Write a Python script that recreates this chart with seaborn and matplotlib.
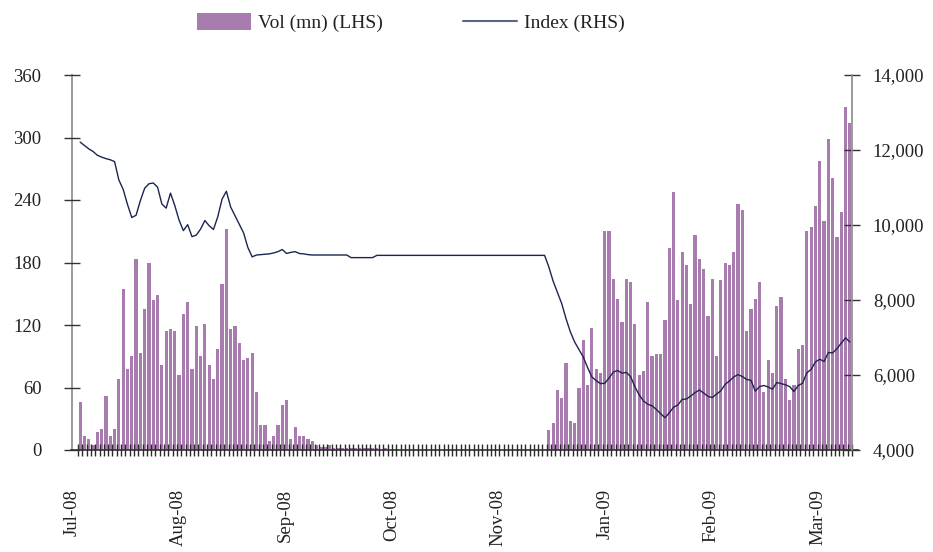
import numpy as np
import pandas as pd
import matplotlib
matplotlib.use('Agg')
import matplotlib.pyplot as plt
import matplotlib.ticker as mticker
from matplotlib.patches import Patch
from matplotlib.lines import Line2D
import seaborn as sns

# Daily volume (mn, LHS) - one value per trading day, Jul-08 to mid Mar-09
vol = [
    46, 13, 11, 5, 17, 20, 52, 13, 20, 68, 155, 78, 90, 183, 93, 135, 180, 144, 149, 82,
    114, 116, 114, 72, 131, 142, 78, 119, 90, 121, 82, 68, 97, 159, 212, 116, 119, 103, 86, 88,
    93, 56, 24, 24, 9, 13, 24, 43, 48, 11, 22, 13, 13, 11, 9,
    5, 3, 3, 5, 1.5, 1.5, 1.5, 1.5, 1.5, 1.5, 1.5, 1.5, 1.5, 1.5, 1.5, 0, 1.5,
    0, 0, 0, 0, 0, 0, 0, 0, 0, 0, 0, 0, 0, 0, 0, 0, 0, 0, 0, 0,
    0, 0, 0, 0, 0, 0, 0, 0, 0, 0, 0, 0, 0, 0, 0, 0, 0,
    19, 26, 58, 50, 84, 28, 26, 60, 106, 62, 117, 78, 74, 210, 210, 164, 145, 123, 164, 161,
    121, 72, 76, 142, 90, 92, 92, 125, 194, 248, 144, 190, 178, 140, 206, 183, 174, 129, 164, 90,
    163,
    180, 178, 190, 236, 230, 114, 135, 145, 161, 56, 86, 74, 138, 147, 68, 48, 62, 97, 101, 210,
    214, 234, 277, 220, 299, 261, 204, 228, 329, 314,
]

# Index level (RHS)
index_level = [
    12210, 12120, 12030, 11960, 11860, 11810, 11770, 11740, 11690, 11200,
    10950, 10550, 10200, 10260, 10650, 10980, 11100, 11120, 11010, 10560,
    10450, 10850, 10520, 10130, 9850, 10010, 9690, 9730, 9890, 10120,
    9980, 9880, 10220, 10690, 10900, 10480, 10250, 10020, 9790, 9400,
    9150, 9200, 9210, 9220, 9230, 9255, 9290, 9345, 9240, 9270,
    9290, 9240, 9230, 9210, 9200,
    9200, 9200, 9200, 9200, 9200, 9200, 9200, 9200,
    9130, 9130, 9130, 9130, 9130, 9130,
    9190, 9190, 9190, 9190, 9190, 9190, 9190, 9190, 9190, 9190,
    9190, 9190, 9190, 9190, 9190, 9190, 9190, 9190, 9190, 9190,
    9190, 9190, 9190, 9190, 9190, 9190, 9190, 9190, 9190, 9190,
    9190, 9190, 9190, 9190, 9190, 9190, 9190, 9190, 9190, 9190,
    8880, 8500, 8200, 7900, 7500, 7150, 6880, 6680, 6480, 6200,
    5950, 5850, 5770, 5780, 5920, 6080, 6120, 6050, 6070, 5960,
    5690, 5470, 5310, 5220, 5180, 5080, 4970, 4860, 4990, 5140,
    5200, 5350, 5360, 5440, 5530, 5600, 5520, 5430, 5400, 5490,
    5580, 5750, 5840, 5950, 6010, 5960, 5880, 5860, 5570, 5690,
    5720, 5680, 5620, 5800, 5770, 5740, 5690, 5560, 5720, 5780,
    6060, 6150, 6350, 6420, 6360, 6600, 6590, 6700, 6850, 6990,
    6880,
]

month_labels = ['Jul-08', 'Aug-08', 'Sep-08', 'Oct-08', 'Nov-08', 'Jan-09', 'Feb-09', 'Mar-09']

bar_color = '#A87CAE'
line_color = '#1C2550'
text_color = '#222222'

df = pd.DataFrame({'day': np.arange(len(vol)), 'vol': vol, 'index': index_level})
n = len(df)

sns.set_theme(style='white')
plt.rcParams['font.family'] = ['Liberation Serif', 'DejaVu Serif']

fig = plt.figure(figsize=(9.33, 5.52), dpi=100)
ax = fig.add_axes([72 / 933, 102 / 552, 780 / 933, 375 / 552])
ax2 = ax.twinx()

sns.barplot(data=df, x='day', y='vol', color=bar_color, saturation=1,
            width=0.74, edgecolor='none', linewidth=0, ax=ax)
sns.lineplot(data=df, x='day', y='index', color=line_color, lw=1.0, ax=ax2)

# ticks sit on top of the bars, like the original
ax.set_axisbelow(False)

ax.set_xlim(-0.5, n - 0.5)
ax.set_ylim(0, 360)
ax2.set_ylim(4000, 14000)
ax.set_xlabel('')
ax.set_ylabel('')
ax2.set_ylabel('')

# x axis: tick per day, month labels every ~25 days
ax.set_xticks(-1.9 + 24.78 * np.arange(len(month_labels)))
ax.set_xticklabels(month_labels, rotation=90, fontsize=13.5, color=text_color)
ax.set_xticks(np.arange(n + 1) - 0.5, minor=True)
ax.tick_params(axis='x', which='major', length=0, pad=28)
ax.tick_params(axis='x', which='minor', direction='inout', length=9,
               width=1.0, color='#2a2a2a', bottom=True)

ax.set_yticks(range(0, 361, 60))
ax.tick_params(axis='y', direction='inout', length=12, width=1, color='#333333',
               labelsize=13.5, labelcolor=text_color, pad=16, left=True)
ax2.set_yticks(range(4000, 14001, 2000))
ax2.yaxis.set_major_formatter(mticker.FuncFormatter(lambda v, p: f'{v:,.0f}'))
ax2.tick_params(axis='y', direction='inout', length=12, width=1, color='#333333',
                labelsize=13.5, labelcolor=text_color, pad=9, right=True)

for s in ['top', 'right']:
    ax.spines[s].set_visible(False)
for s in ['top', 'left', 'bottom']:
    ax2.spines[s].set_visible(False)
ax.spines['left'].set_color('#8a8a8a')
ax.spines['left'].set_linewidth(1.2)
ax2.spines['right'].set_color('#8a8a8a')
ax2.spines['right'].set_linewidth(1.2)
ax.spines['bottom'].set_color('#333333')
ax.spines['bottom'].set_linewidth(1.2)
ax.spines['bottom'].set_bounds(-2.1, n + 0.9)

handles = [Patch(facecolor=bar_color, edgecolor='none'),
           Line2D([0], [0], color='#5a6688', lw=1.5)]
fig.legend(handles, ['Vol (mn) (LHS)', 'Index (RHS)'], loc='upper left',
           bbox_to_anchor=(197 / 933, 1 - 13 / 552), ncol=2, frameon=False,
           handlelength=2.8, handleheight=0.95, handletextpad=0.35,
           columnspacing=4.1, borderpad=0, borderaxespad=0,
           prop={'family': 'Liberation Serif', 'size': 14},
           labelcolor=text_color)

fig.savefig('out.png', dpi=100)
